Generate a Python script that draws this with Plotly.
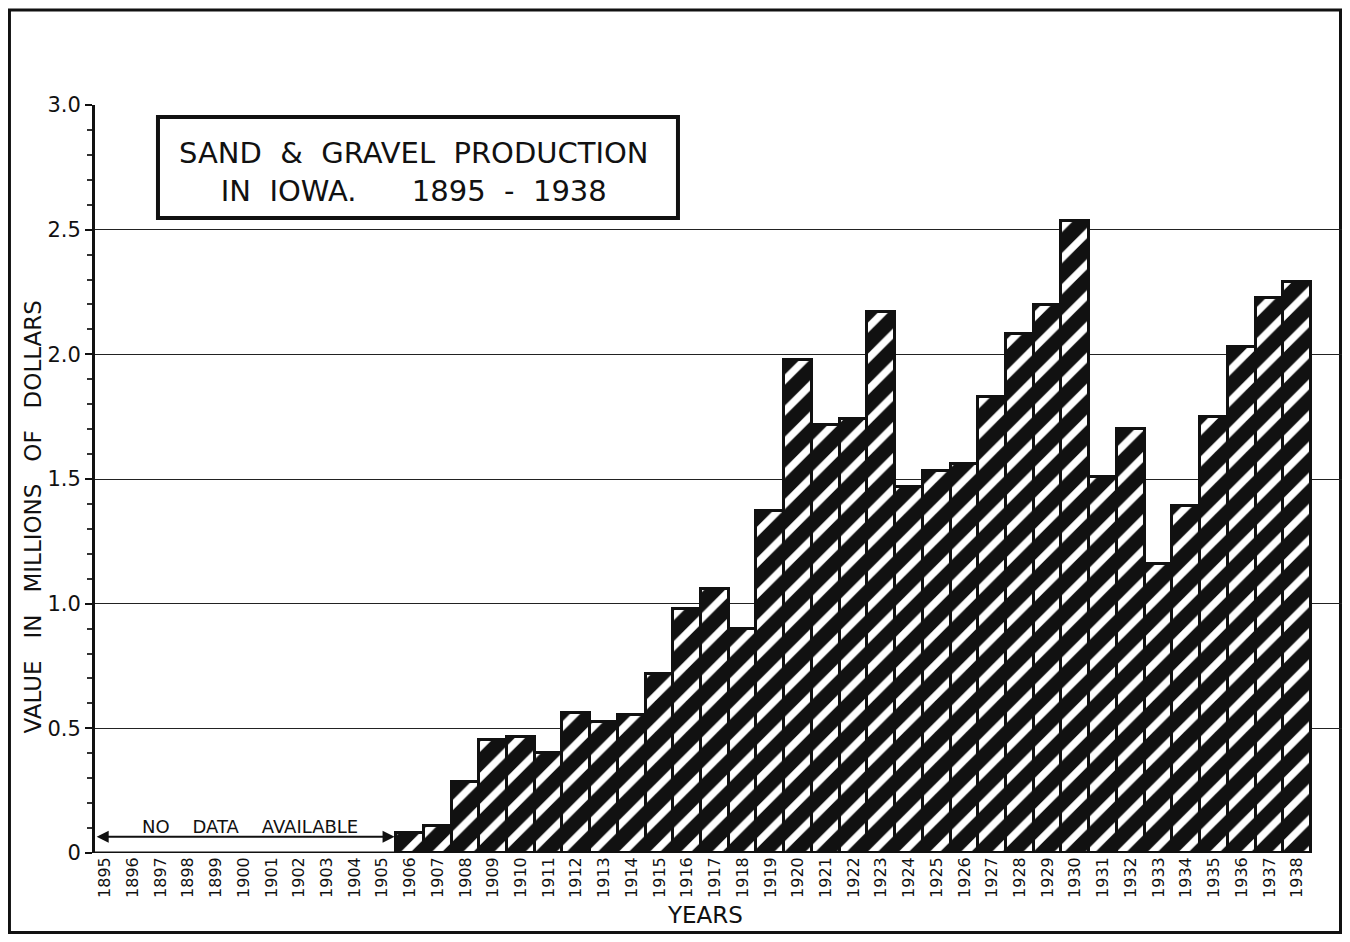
import plotly.graph_objects as go

# ---- data ----
all_years = list(range(1895, 1939))
years = list(range(1906, 1939))
values = [0.08, 0.11, 0.285, 0.453, 0.465, 0.40, 0.56, 0.525, 0.553, 0.718,
          0.979, 1.059, 0.90, 1.372, 1.978, 1.717, 1.741, 2.17, 1.468, 1.532,
          1.56, 1.83, 2.08, 2.198, 2.535, 1.508, 1.70, 1.16, 1.392, 1.749,
          2.03, 2.226, 2.29]
y_tickvals = [0, 0.5, 1.0, 1.5, 2.0, 2.5, 3.0]
y_ticktext = ["0", "0.5", "1.0", "1.5", "2.0", "2.5", "3.0"]
x_ticktext = [str(y) for y in all_years]

FONT = "DejaVu Sans"
NB = "\u00a0"
INK = "#111111"

fig = go.Figure()
fig.add_trace(go.Bar(
    x=years, y=values, width=1.0,
    marker=dict(
        color=INK,
        line=dict(color=INK, width=3),
        pattern=dict(shape="/", fgcolor="white", bgcolor=INK, fgopacity=1,
                     fillmode="replace", size=22, solidity=0.33),
    ),
    showlegend=False,
))

# page body adds an 8px margin -> figure sized so the page does not scroll
fig.update_layout(
    width=1334, height=926,
    margin=dict(l=87, r=0, t=97, b=81),
    paper_bgcolor="white", plot_bgcolor="white",
    bargap=0,
    font=dict(family=FONT, color=INK),
    xaxis=dict(
        range=[1894.64, 1939.62],
        tickmode="array", tickvals=all_years, ticktext=x_ticktext,
        tickangle=-90, tickfont=dict(size=16, family=FONT, color=INK),
        showgrid=False, zeroline=False, showline=False, ticks="",
    ),
    yaxis=dict(
        range=[0, 3.0],
        tickmode="array", tickvals=y_tickvals, ticktext=y_ticktext,
        tickfont=dict(size=21, family=FONT, color=INK),
        showgrid=True, gridcolor="#222222", gridwidth=1.3,
        zeroline=False, showline=True, linecolor=INK, linewidth=3,
        ticks="outside", ticklen=7, tickwidth=2, tickcolor=INK,
        minor=dict(dtick=0.1, ticks="outside", ticklen=5, tickwidth=1.5,
                   tickcolor="#333333", showgrid=False),
    ),
)

# baseline
fig.add_shape(type="line", xref="x", yref="y", x0=1894.64, x1=1938.5,
              y0=0, y1=0, line=dict(color=INK, width=3))

# outer frame
fig.add_shape(type="rect", xref="paper", yref="paper",
              x0=-0.0686, x1=0.9988, y0=-0.1063, y1=1.127,
              line=dict(color=INK, width=3), layer="below")

# title box
fig.add_shape(type="rect", xref="paper", yref="paper",
              x0=0.0505, x1=0.4675, y0=0.849, y1=0.984,
              line=dict(color=INK, width=4), fillcolor="white")
fig.add_annotation(
    xref="paper", yref="paper", x=0.2562, y=0.911,
    xanchor="center", yanchor="middle",
    text=("SAND" + NB * 2 + "&" + NB * 2 + "GRAVEL" + NB * 2 + "PRODUCTION<br>"
          "IN" + NB * 2 + "IOWA." + NB * 6 + "1895" + NB * 2 + "-" + NB * 2 + "1938"),
    showarrow=False, font=dict(size=29, family=FONT, color=INK),
    align="center",
)

# no data arrow
fig.add_annotation(
    xref="x", yref="y", axref="x", ayref="y",
    x=1894.7, y=0.065, ax=1905.5, ay=0.065,
    text="", showarrow=True, arrowhead=2, arrowside="end+start",
    arrowsize=1.2, arrowwidth=2, arrowcolor=INK,
)
fig.add_annotation(
    xref="x", yref="y", x=1900.23, y=0.108,
    xanchor="center", yanchor="middle",
    text="NO" + NB * 4 + "DATA" + NB * 4 + "AVAILABLE",
    showarrow=False, font=dict(size=18, family=FONT, color=INK),
)

# axis titles
fig.add_annotation(
    xref="paper", yref="paper", x=-0.0495, y=0.449,
    xanchor="center", yanchor="middle",
    text=("VALUE" + NB * 3 + "IN" + NB * 3 + "MILLIONS" + NB * 3 + "OF" + NB * 3 + "DOLLARS"),
    textangle=-90, showarrow=False,
    font=dict(size=23, family=FONT, color=INK),
)
fig.add_annotation(
    xref="paper", yref="paper", x=0.4892, y=-0.0829,
    xanchor="center", yanchor="middle",
    text="YEARS", showarrow=False,
    font=dict(size=23, family=FONT, color=INK),
)

fig.write_html("out.html")
